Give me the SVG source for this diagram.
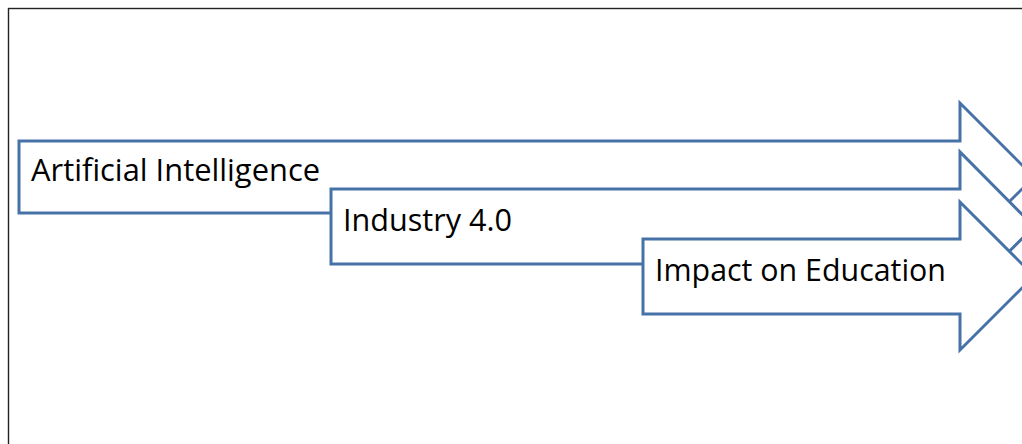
<svg xmlns="http://www.w3.org/2000/svg" width="1022" height="444" viewBox="0 0 1022 444">
<style>
.arrow{fill:#fff;stroke:#4672a8;stroke-width:3;stroke-linejoin:miter}
.lbl{font-family:"Open Sans","Noto Sans",sans-serif;font-size:31px;fill:#000}
</style>
<rect x="0" y="0" width="1022" height="444" fill="#fff"/>
<rect x="8.5" y="8.5" width="1100" height="1000" fill="none" stroke="#222" stroke-width="1.4"/>
<g id="connectors"></g>
<g id="node-ai">
<path class="arrow" d="M19,141 H960 V103 L1034,177 L960,251 V213 H19 Z"/>
<text class="lbl" x="31" y="181" textLength="289" lengthAdjust="spacingAndGlyphs">Artificial Intelligence</text>
</g>
<g id="node-industry">
<path class="arrow" d="M331,189 H960 V152 L1034,226.5 L960,301 V264 H331 Z"/>
<text class="lbl" x="343" y="231" textLength="169" lengthAdjust="spacingAndGlyphs">Industry 4.0</text>
</g>
<g id="node-impact">
<path class="arrow" d="M643,239 H960 V202 L1034,276 L960,350 V314 H643 Z"/>
<text class="lbl" x="655" y="281" textLength="291" lengthAdjust="spacingAndGlyphs">Impact on Education</text>
</g>
</svg>
